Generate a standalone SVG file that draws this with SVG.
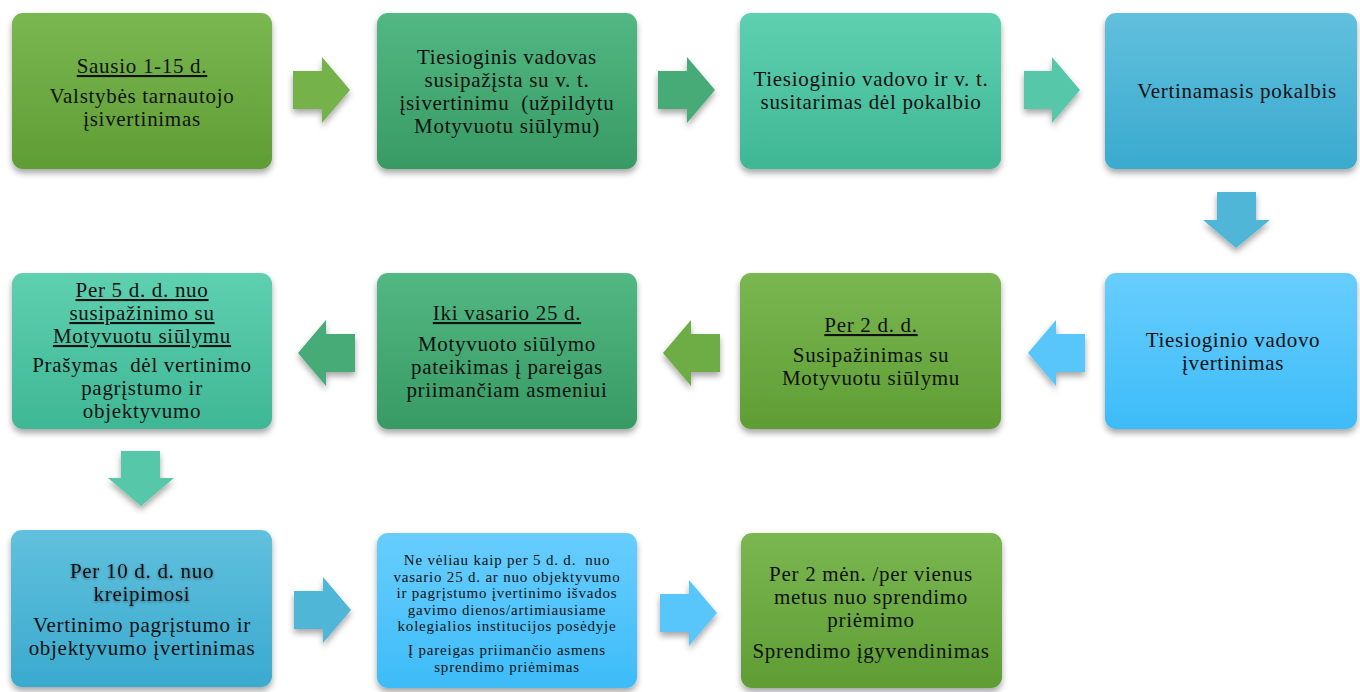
<svg xmlns="http://www.w3.org/2000/svg" width="1360" height="692" viewBox="0 0 1360 692">
<defs>
<linearGradient id="gGreen" x1="0" y1="0" x2="0" y2="1"><stop offset="0" stop-color="#7ab751"/><stop offset="1" stop-color="#5f9d34"/></linearGradient>
<linearGradient id="gEmerald" x1="0" y1="0" x2="0" y2="1"><stop offset="0" stop-color="#52b883"/><stop offset="1" stop-color="#389a64"/></linearGradient>
<linearGradient id="gTeal" x1="0" y1="0" x2="0" y2="1"><stop offset="0" stop-color="#5ed0b0"/><stop offset="1" stop-color="#3fb795"/></linearGradient>
<linearGradient id="gBlue" x1="0" y1="0" x2="0" y2="1"><stop offset="0" stop-color="#61c0dd"/><stop offset="1" stop-color="#3aaacf"/></linearGradient>
<linearGradient id="gSky" x1="0" y1="0" x2="0" y2="1"><stop offset="0" stop-color="#68cdfe"/><stop offset="1" stop-color="#3dbcf8"/></linearGradient>
<filter id="sh" x="-10%" y="-10%" width="120%" height="130%"><feDropShadow dx="0" dy="4" stdDeviation="3" flood-color="#000" flood-opacity="0.35"/></filter>
<filter id="tsh" x="-10%" y="-30%" width="120%" height="160%"><feDropShadow dx="0" dy="1" stdDeviation="1.5" flood-color="#000" flood-opacity="0.45"/></filter>
</defs>
<style>
text{font-family:"Liberation Serif","DejaVu Serif",serif;font-size:21px;letter-spacing:0.7px;fill:#111;text-anchor:middle}
.u{text-decoration:underline}
.s{font-size:15px;letter-spacing:0.8px}
.box{filter:url(#sh)}
.arr{filter:url(#sh)}
</style>
<g id="connectors">
<polygon class="arr" fill="#74b24a" points="293,71 322,71 322,57 350,90 322,123 322,109 293,109"/>
<polygon class="arr" fill="#46ab78" points="658,71 687,71 687,57 715,90 687,123 687,109 658,109"/>
<polygon class="arr" fill="#56c7a8" points="1024,71 1052,71 1052,57 1080,90 1052,123 1052,109 1024,109"/>
<polygon class="arr" fill="#50b6d8" points="1217,192 1256,192 1256,220 1270,220 1236,248 1203,220 1217,220"/>
<polygon class="arr" fill="#58c6fb" points="1085,334 1056,334 1056,320 1028,353 1056,386 1056,372 1085,372"/>
<polygon class="arr" fill="#6eac44" points="720,334 691,334 691,320 663,353 691,386 691,372 720,372"/>
<polygon class="arr" fill="#46ab78" points="355,334 326,334 326,320 298,353 326,386 326,372 355,372"/>
<polygon class="arr" fill="#56c7a8" points="121,451 160,451 160,478 174,478 141,506 108,478 121,478"/>
<polygon class="arr" fill="#50b6d8" points="294,591 323,591 323,577 351,610 323,643 323,629 294,629"/>
<polygon class="arr" fill="#58c6fb" points="660,594 689,594 689,580 717,613 689,646 689,632 660,632"/>
</g>
<g id="n1"><rect class="box" x="12" y="13" width="260" height="156" rx="11" fill="url(#gGreen)"/>
<text x="142" y="73" class="u">Sausio 1-15 d.</text><text x="142" y="103">Valstybės tarnautojo</text><text x="142" y="126">įsivertinimas</text></g>
<g id="n2"><rect class="box" x="377" y="13" width="260" height="156" rx="11" fill="url(#gEmerald)"/>
<text x="507" y="64">Tiesioginis vadovas</text><text x="507" y="87">susipažįsta su v. t.</text><text x="507" y="110" xml:space="preserve">įsivertinimu  (užpildytu</text><text x="507" y="133">Motyvuotu siūlymu)</text></g>
<g id="n3"><rect class="box" x="740" y="13" width="261" height="156" rx="11" fill="url(#gTeal)"/>
<text x="871" y="86">Tiesioginio vadovo ir v. t.</text><text x="871" y="109">susitarimas dėl pokalbio</text></g>
<g id="n4"><rect class="box" x="1105" y="13" width="252" height="156" rx="11" fill="url(#gBlue)"/>
<text x="1237" y="98">Vertinamasis pokalbis</text></g>
<g id="n5"><rect class="box" x="12" y="273" width="260" height="156" rx="11" fill="url(#gTeal)"/>
<text x="142" y="297" class="u">Per 5 d. d. nuo</text><text x="142" y="320" class="u">susipažinimo su</text><text x="142" y="343" class="u">Motyvuotu siūlymu</text>
<text x="142" y="372" xml:space="preserve">Prašymas  dėl vertinimo</text><text x="142" y="395">pagrįstumo ir</text><text x="142" y="418">objektyvumo</text></g>
<g id="n6"><rect class="box" x="377" y="273" width="260" height="156" rx="11" fill="url(#gEmerald)"/>
<text x="507" y="320" class="u">Iki vasario 25 d.</text><text x="507" y="351">Motyvuoto siūlymo</text><text x="507" y="374">pateikimas į pareigas</text><text x="507" y="397">priimančiam asmeniui</text></g>
<g id="n7"><rect class="box" x="740" y="273" width="261" height="156" rx="11" fill="url(#gGreen)"/>
<text x="871" y="332" class="u">Per 2 d. d.</text><text x="871" y="362">Susipažinimas su</text><text x="871" y="385">Motyvuotu siūlymu</text></g>
<g id="n8"><rect class="box" x="1105" y="273" width="252" height="156" rx="11" fill="url(#gSky)"/>
<text x="1233" y="347">Tiesioginio vadovo</text><text x="1233" y="370">įvertinimas</text></g>
<g id="n9"><rect class="box" x="11" y="530" width="261" height="157" rx="11" fill="url(#gBlue)"/>
<text x="142" y="578" filter="url(#tsh)">Per 10 d. d. nuo</text><text x="142" y="601" filter="url(#tsh)">kreipimosi</text>
<text x="142" y="632">Vertinimo pagrįstumo ir</text><text x="142" y="655">objektyvumo įvertinimas</text></g>
<g id="n10"><rect class="box" x="377" y="533" width="260" height="155" rx="11" fill="url(#gSky)"/>
<text x="507" y="565" class="s" xml:space="preserve">Ne vėliau kaip per 5 d. d.  nuo</text><text x="507" y="581.5" class="s">vasario 25 d. ar nuo objektyvumo</text><text x="507" y="598" class="s">ir pagrįstumo įvertinimo išvados</text><text x="507" y="614.5" class="s">gavimo dienos/artimiausiame</text><text x="507" y="631" class="s">kolegialios institucijos posėdyje</text>
<text x="507" y="655" class="s">Į pareigas priimančio asmens</text><text x="507" y="671.5" class="s">sprendimo priėmimas</text></g>
<g id="n11"><rect class="box" x="741" y="533" width="261" height="155" rx="11" fill="url(#gGreen)"/>
<text x="871" y="581">Per 2 mėn. /per vienus</text><text x="871" y="604">metus nuo sprendimo</text><text x="871" y="627">priėmimo</text><text x="871" y="658">Sprendimo įgyvendinimas</text></g>
</svg>
